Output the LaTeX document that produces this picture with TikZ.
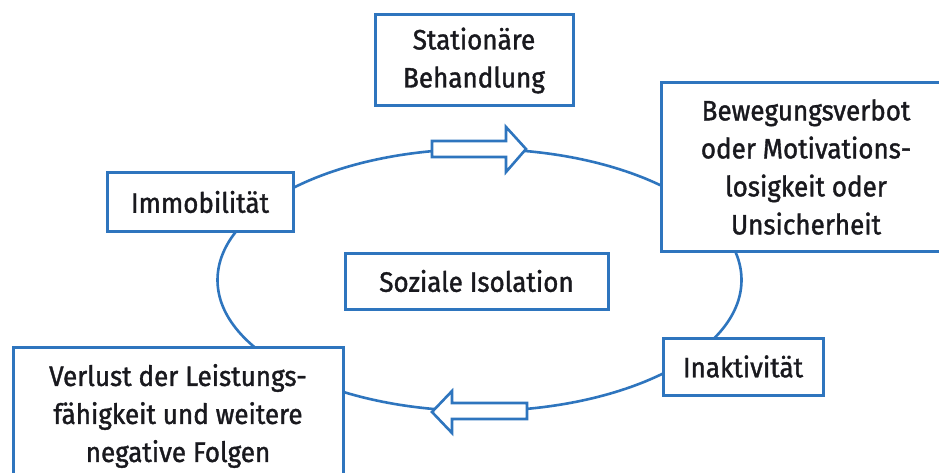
\documentclass[tikz,border=0pt]{standalone}
\usepackage{fontspec}
\setmainfont{Fira Sans}[FakeStretch=0.93, FakeBold=1.3]
\definecolor{cblue}{RGB}{46,117,190}
\definecolor{ctext}{RGB}{25,25,30}
\tikzset{
  box/.style={draw=cblue, line width=3pt, fill=white, align=center, text=ctext,
    inner sep=0pt, font=\fontsize{28}{38}\selectfont},
  ring/.style={draw=cblue, line width=2.6pt},
  blockarrow/.style={draw=cblue, line width=2.6pt, fill=white, line join=miter}
}
\begin{document}
\begin{tikzpicture}[x=1pt,y=-1pt]
\useasboundingbox (0,0) rectangle (939,473);
\clip (0,0) rectangle (939,473);
\fill[white] (0,0) rectangle (939,473);
\coordinate (c) at (479.5,280);
\draw[ring] (c) ellipse [x radius=262, y radius=131];
% block arrows
\draw[blockarrow] (432,141) -- (506,141) -- (506,127) -- (526,149) -- (506,172) -- (506,157) -- (432,157) -- cycle;
\draw[blockarrow] (527,403) -- (452,403) -- (452,391) -- (432,412) -- (452,433) -- (452,419) -- (527,419) -- cycle;
% boxes
\node[box, minimum width=198, minimum height=91] (stat) at (474,60.5) {Stationäre\\Behandlung};
\node[box, minimum width=290, minimum height=168] (bew) at (806,167) {Bewegungsverbot\\oder Motivations-\\losigkeit oder\\Unsicherheit};
\node[box, minimum width=186, minimum height=58] (immo) at (200,202) {Immobilität};
\node[box, minimum width=263, minimum height=56] (soz) at (476.5,281) {Soziale Isolation};
\node[box, minimum width=160, minimum height=57] (inak) at (743,366.5) {Inaktivität};
\node[box, minimum width=330, minimum height=138] (verl) at (178,416) {Verlust der Leistungs-\\fähigkeit und weitere\\negative Folgen};
\end{tikzpicture}
\end{document}
